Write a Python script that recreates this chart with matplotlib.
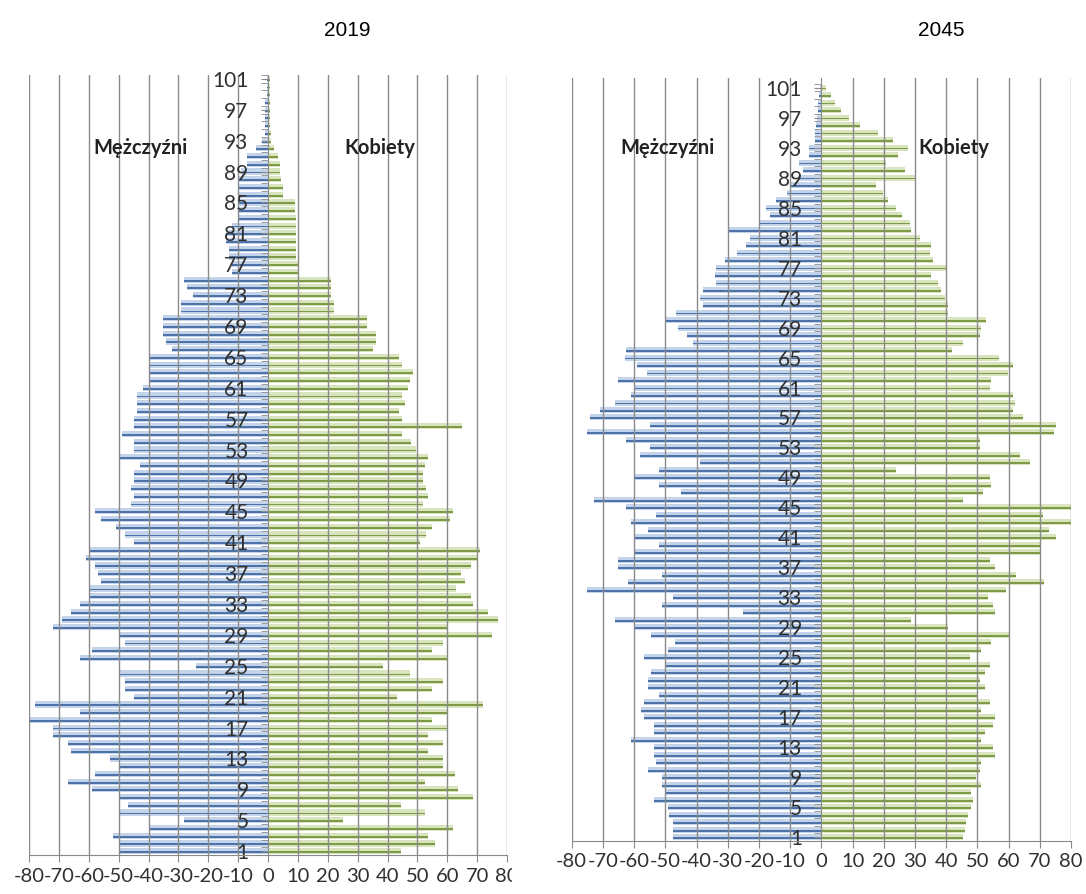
import numpy as np
import matplotlib
matplotlib.use("Agg")
import matplotlib.pyplot as plt
from matplotlib.patches import Rectangle

plt.rcParams['font.family'] = ['Lato', 'DejaVu Sans']

# age 1 .. 101
ages = list(range(1, 102))

men_2019 = [50, 50, 52, 40, 28, 50, 47, 50, 59, 67,
            58, 50, 53, 66, 67, 72, 72, 80, 63, 78,
            45, 48, 48, 50, 24, 63, 59, 48, 50, 72,
            69, 66, 63, 60, 60, 56, 57, 58, 61, 60,
            45, 48, 51, 56, 58, 46, 45, 46, 45, 45,
            43, 50, 45, 45, 49, 45, 45, 44, 44, 44,
            42, 40, 40, 40, 40, 32, 34, 35, 35, 35,
            29, 29, 25, 27, 28, 12, 12, 13, 13, 14,
            14, 12, 10, 10, 10, 10, 10, 10, 9, 7,
            7, 4, 2, 1, 1, 1, 1, 1, 0.5, 0.5, 0.5]

women_2019 = [44.5, 56, 53.5, 62, 25, 52.5, 44.5, 68.5, 63.5, 52.5,
              62.5, 58.5, 58.5, 53.5, 58.5, 53.5, 60, 55, 60, 72,
              43, 55, 58.5, 47.5, 38.5, 60, 55, 58.5, 75, 60,
              77, 73.5, 68.5, 68, 63, 66, 64.5, 68, 70, 71,
              51, 53, 55, 61, 62, 52, 53.5, 53, 52, 52,
              52.5, 53.5, 49.5, 48, 45, 65, 45, 44, 46, 45,
              47, 47.5, 48.5, 45, 44, 35, 36, 36, 33, 33,
              22, 22, 21, 21, 21, 10, 10, 9.5, 9.5, 9.5,
              9.5, 9.5, 9.5, 9, 9, 5, 5, 4.5, 4, 4,
              3.5, 2, 1, 1, 0.8, 0.8, 0.8, 0.6, 0.6, 0.5, 0.5]

men_2045 = [47.6, 47.6, 47.6, 48.7, 49, 53.5, 50, 51, 51, 55.6,
            53, 53.5, 53.5, 61, 53.5, 53.5, 56.7, 57.8, 56.7, 52,
            55.6, 55.6, 54.5, 50, 56.7, 49, 47, 54.5, 60, 66,
            25, 51, 47.6, 75, 62, 51, 65, 65, 60, 52,
            60, 55.6, 61, 53, 62.5, 73, 45, 52, 60, 52,
            39, 58, 55, 62.5, 75, 55, 74, 71, 66, 61,
            60, 65, 56, 59, 63, 62.5, 41, 43, 46, 50,
            46.5, 38, 39, 38, 33.7, 34, 33.7, 31, 27, 24,
            23, 30, 19.8, 16.6, 17.6, 14.4, 11, 9.6, 7.5, 6,
            7, 4, 4, 2, 2, 1.8, 1.5, 1.2, 1, 0.8, 0.5]

women_2045 = [45.4, 46, 46.4, 47, 48, 48.6, 48, 51.2, 49.6, 50.7,
              51.2, 55.5, 55, 51.2, 52.3, 55, 55.5, 51.2, 54, 50.2,
              52.3, 50.7, 52.3, 54, 47.5, 51.2, 54.4, 60.3, 40.6, 28.8,
              55.5, 55, 53.4, 59.2, 71.5, 62.4, 55.5, 54, 70, 70,
              75.2, 73, 80, 71, 80, 45.4, 51.8, 54.4, 54, 24,
              66.7, 63.5, 50.7, 50.7, 74.7, 75.2, 64.6, 61.4, 62, 61.4,
              54, 54.4, 59.8, 61.4, 57, 42, 45.4, 50.7, 51.2, 52.8,
              40.6, 40.6, 39.5, 38.4, 37.4, 35.2, 40, 35.8, 34.7, 35,
              31.5, 28.8, 28.3, 26, 24, 21.3, 19.7, 17.6, 30.4, 26.7,
              20.8, 24.5, 27.7, 23, 18, 12.3, 9, 6.4, 4.3, 3.2, 1.6]

x_ticks = list(range(-80, 81, 10))
age_ticks = list(range(1, 102, 4))

men_light, men_dark = '#c3d4ea', '#4d72a8'
women_light, women_dark = '#d8e4bd', '#7f9a46'
grid_col = '#8a8a8a'


def pyramid(ax, men, women, ylim, men_lab, wom_lab):
    # spine has to be moved first, moving it resets the tick setup
    ax.spines['left'].set_position(('data', 0))
    ax.spines['left'].set_color(grid_col)
    ax.spines['bottom'].set_color(grid_col)
    ax.spines['top'].set_visible(False)
    ax.spines['right'].set_visible(False)

    y = np.array(ages)
    m = -np.array(men)
    w = np.array(women)
    ax.barh(y, m, height=0.8, color=men_light, zorder=1)
    ax.barh(y - 0.12, m, height=0.24, color=men_dark, zorder=1.1)
    ax.barh(y, w, height=0.8, color=women_light, zorder=1)
    ax.barh(y - 0.12, w, height=0.24, color=women_dark, zorder=1.1)
    for xv in x_ticks:
        if xv != 0:
            ax.axvline(xv, color=grid_col, lw=1, zorder=1.5)
    ax.set_xlim(-80, 80)
    ax.set_ylim(*ylim)
    ax.set_xticks(x_ticks)
    ax.set_xticklabels([str(v) for v in x_ticks])
    ax.set_yticks(age_ticks)
    ax.set_yticklabels([str(v) for v in age_ticks])
    ax.set_yticks(np.arange(0.5, 102, 1), minor=True)
    ax.tick_params(axis='y', which='major', length=5, pad=9, color=grid_col,
                   labelsize=15, labelcolor='#303030')
    ax.tick_params(axis='y', which='minor', length=5, color=grid_col)
    ax.tick_params(axis='x', length=5, pad=4, color=grid_col,
                   labelsize=14.5, labelcolor='#303030')
    ax.text(men_lab[0], men_lab[1], 'Mężczyźni', fontsize=14.5, fontweight='bold',
            ha='center', va='center', color='#222222', zorder=5)
    ax.text(wom_lab[0], wom_lab[1], 'Kobiety', fontsize=14.5, fontweight='bold',
            ha='center', va='center', color='#222222', zorder=5)


fig = plt.figure(figsize=(10.86, 8.94), dpi=100)
ax1 = fig.add_axes([0.0267, 0.0436, 0.4402, 0.8725])
ax2 = fig.add_axes([0.5264, 0.0593, 0.4598, 0.8535])

pyramid(ax1, men_2019, women_2019, (0.55, 101.2), (-42.7, 92), (37.3, 92))
pyramid(ax2, men_2045, women_2045, (0.53, 102.3), (-49.4, 93), (42.6, 93))

# left chart is cut off just after the "80" label starts
clip = Rectangle((0, 0), 512 / 1086, 1, transform=fig.transFigure)
for lbl in ax1.get_xticklabels():
    lbl.set_clip_path(clip)

fig.text(0.320, 0.966, '2019', fontsize=15, ha='center', va='center',
         family=['Liberation Sans', 'DejaVu Sans'])
fig.text(0.867, 0.966, '2045', fontsize=15, ha='center', va='center',
         family=['Liberation Sans', 'DejaVu Sans'])

fig.savefig('out.png', dpi=100)
